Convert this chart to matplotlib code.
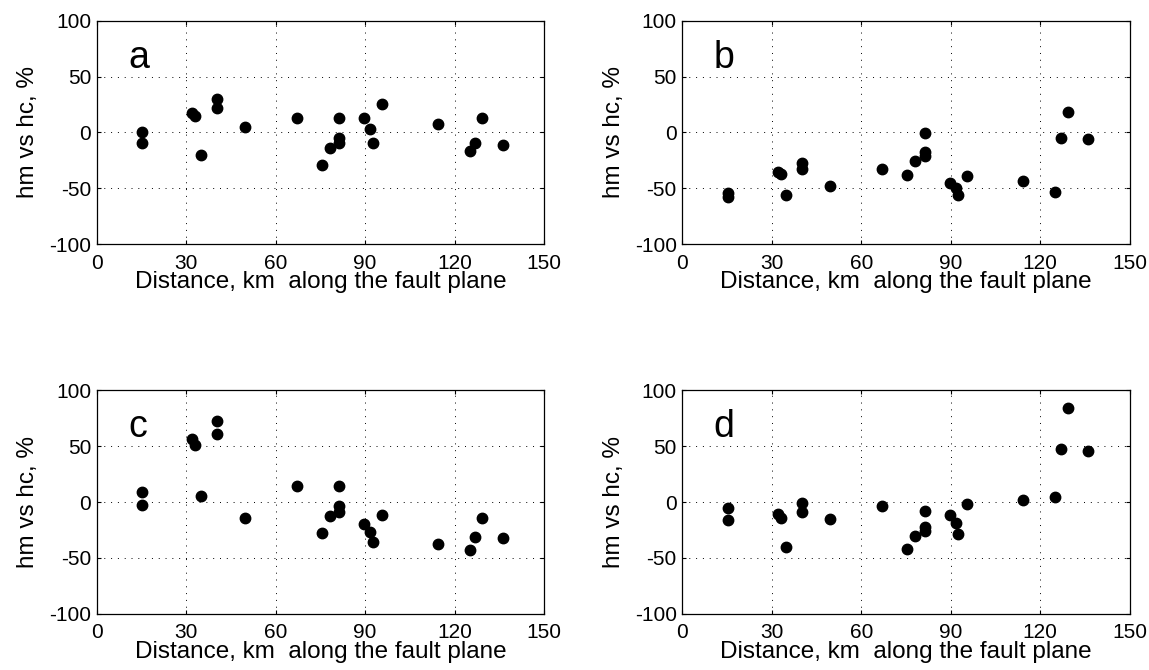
import numpy as np
import matplotlib.pyplot as plt

plt.rcParams['font.family'] = ['Liberation Sans', 'DejaVu Sans']
plt.rcParams['axes.unicode_minus'] = False

# distance along the fault plane (km), same stations in every panel
dist = [15.2, 15.2, 32.0, 33.1, 34.9, 40.3, 40.3, 49.6, 67.1, 75.4, 78.1, 81.4,
        81.4, 81.4, 89.7, 91.7, 92.6, 95.6, 114.4, 125.1, 127.0, 129.2, 136.2]

# hm vs hc (%) for each panel
val_a = [0.6, -9.2, 17.6, 14.6, -20.3, 30.1, 21.8, 4.8, 12.8, -29.2, -14.0, 12.8,
         -4.8, -9.2, 12.8, 2.7, -9.2, 25.6, 7.2, -16.4, -9.8, 12.8, -11.0]
val_b = [-54.0, -58.0, -35.2, -37.3, -56.0, -27.7, -33.1, -48.0, -33.1, -38.2, -25.3, -0.9,
         -17.3, -21.2, -45.0, -50.1, -56.0, -39.0, -43.2, -53.1, -5.1, 17.9, -6.0]
val_c = [9.4, -2.5, 56.4, 51.3, 5.5, 72.8, 61.4, -13.9, 14.5, -27.7, -12.4, 14.5,
         -3.4, -8.8, -19.6, -26.8, -36.0, -11.5, -37.8, -42.9, -30.9, -13.9, -31.8]
val_d = [-5.5, -15.7, -10.6, -13.9, -39.9, -1.0, -8.8, -14.8, -3.4, -41.7, -30.0, -7.6,
         -22.0, -26.2, -11.5, -19.0, -28.8, -1.6, 2.2, 4.3, 47.4, 84.5, 45.5]

panels = ['a', 'b', 'c', 'd']
values = [val_a, val_b, val_c, val_d]
xticks = [0, 30, 60, 90, 120, 150]
yticks = [-100, -50, 0, 50, 100]

fig = plt.figure(figsize=(11.49, 6.70), dpi=100)
lefts = [0.0842, 0.5938, 0.0842, 0.5938]
bottoms = [0.6358, 0.6358, 0.0840, 0.0840]

for i in range(4):
    ax = fig.add_axes([lefts[i], bottoms[i], 0.3893, 0.3333])
    ax.plot(dist, values[i], 'o', color='black', markersize=7.5)
    ax.set_xlim(0, 150)
    ax.set_ylim(-100, 100)
    ax.set_xticks(xticks)
    ax.set_yticks(yticks)
    ax.grid(True, linestyle=(0, (1, 6)), color='black', linewidth=0.7)
    ax.tick_params(direction='in', labelsize=15, length=3, top=True, right=True)
    ax.tick_params(axis='x', pad=7)
    ax.tick_params(axis='y', pad=4)
    ax.set_xlabel('Distance, km  along the fault plane', fontsize=17.5, labelpad=-1)
    ax.set_ylabel('hm vs hc, %', fontsize=17.5, labelpad=7)
    ax.text(0.07, 0.79, panels[i], transform=ax.transAxes, fontsize=27,
            va='baseline', ha='left')
    for s in ax.spines.values():
        s.set_linewidth(0.9)

fig.savefig('out.png', dpi=100)
